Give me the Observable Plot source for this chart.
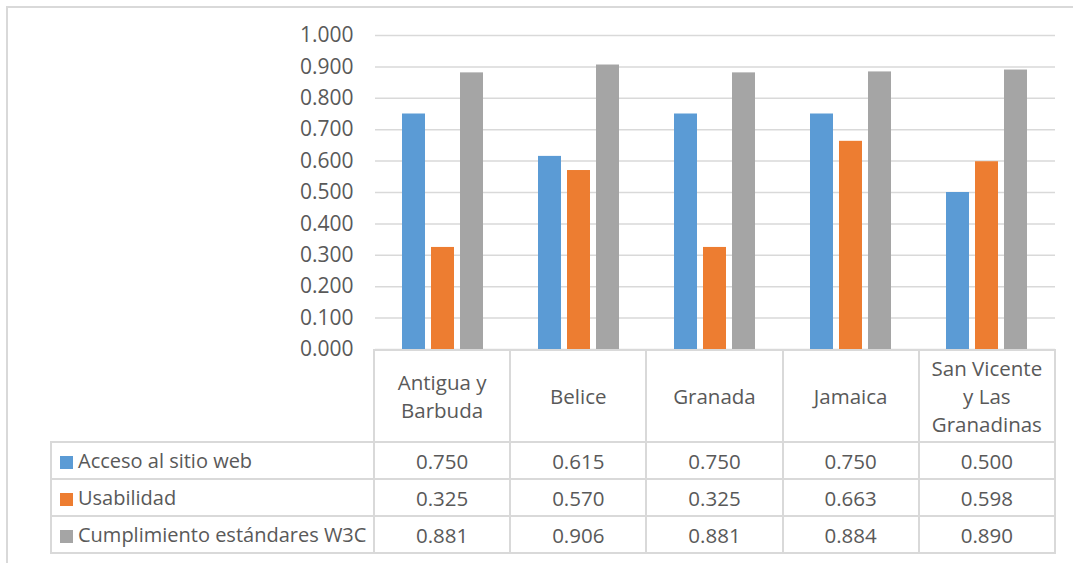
<!DOCTYPE html>
<html>
<head>
<meta charset="utf-8">
<script src="https://cdn.jsdelivr.net/npm/d3@7"></script>
<script src="https://cdn.jsdelivr.net/npm/@observablehq/plot@0.6"></script>
<style>
  html, body { margin: 0; padding: 0; background: #fff; }
  #wrap { position: relative; width: 1073px; height: 563px; overflow: hidden; font-family: "Open Sans", sans-serif; color: #595959; }
  #frame { position: absolute; left: 6px; top: 6px; width: 1200px; height: 700px; border-left: 2px solid #d9d9d9; border-top: 2px solid #d9d9d9; }
  #chart { position: absolute; left: 0; top: 0; }
  #tbl { position: absolute; left: 50px; top: 349px; border-collapse: collapse; table-layout: fixed; font-size: 20.5px; }
  #tbl td { border: 2px solid #d9d9d9; text-align: center; padding: 0; line-height: 28px; }
  #tbl td.lab { text-align: left; padding-left: 8px; white-space: nowrap; font-size: 20px; }
  #tbl td.corner { border-top: hidden; border-left: hidden; }
  .sw { display: inline-block; width: 13px; height: 13px; margin-right: 5px; vertical-align: -1px; }
</style>
</head>
<body>
<div id="wrap">
  <div id="frame"></div>
  <div id="chart"></div>
</div>
<script>
const categories = ["Antigua y Barbuda", "Belice", "Granada", "Jamaica", "San Vicente y Las Granadinas"];
const series = ["Acceso al sitio web", "Usabilidad", "Cumplimiento estándares W3C"];
const acceso = [0.750, 0.615, 0.750, 0.750, 0.500];
const usabilidad = [0.325, 0.570, 0.325, 0.663, 0.598];
const w3c = [0.881, 0.906, 0.881, 0.884, 0.890];
const yTicks = [0, 0.1, 0.2, 0.3, 0.4, 0.5, 0.6, 0.7, 0.8, 0.9, 1.0];
const colors = ["#5b9bd5", "#ed7d31", "#a5a5a5"];

const seriesValues = [acceso, usabilidad, w3c];
const data = [];
categories.forEach((c, i) => {
  series.forEach((s, j) => data.push({pais: c, serie: s, valor: seriesValues[j][i]}));
});

const fmt = d3.format(".3f");

const plot = Plot.plot({
  width: 1073,
  height: 366,
  marginLeft: 374,
  marginRight: 18,
  marginTop: 35,
  marginBottom: 17,
  style: {background: "transparent", fontFamily: "Open Sans, sans-serif", overflow: "visible"},
  fx: {domain: categories, padding: 0, axis: null},
  x: {domain: series, paddingInner: 0.2, paddingOuter: 0.867, axis: null},
  y: {domain: [0, 1]},
  color: {domain: series, range: colors},
  marks: [
    Plot.ruleY(yTicks, {y: d => d, stroke: "#d9d9d9", strokeWidth: 1.5}),
    Plot.barY(data, {fx: "pais", x: "serie", y: "valor", fill: "serie"}),
    Plot.axisY({ticks: yTicks, tickFormat: fmt, tickSize: 0, tickPadding: 22, fontSize: 21, fill: "#595959", label: null})
  ]
});
document.getElementById("chart").appendChild(plot);

// data table
const wrap = d3.select("#wrap");
const table = wrap.append("table").attr("id", "tbl");
const cg = table.append("colgroup");
cg.append("col").style("width", "323px");
categories.forEach(() => cg.append("col").style("width", "136.2px"));
const head = table.append("tr").style("height", "92px");
head.append("td").attr("class", "corner");
categories.forEach(c => head.append("td").style("padding", "0 10px").text(c));
series.forEach((s, j) => {
  const tr = table.append("tr").style("height", "37px");
  const td = tr.append("td").attr("class", "lab");
  td.append("span").attr("class", "sw").style("background", colors[j]);
  td.append("span").text(s);
  seriesValues[j].forEach(v => tr.append("td").text(fmt(v)));
});
</script>
</body>
</html>
